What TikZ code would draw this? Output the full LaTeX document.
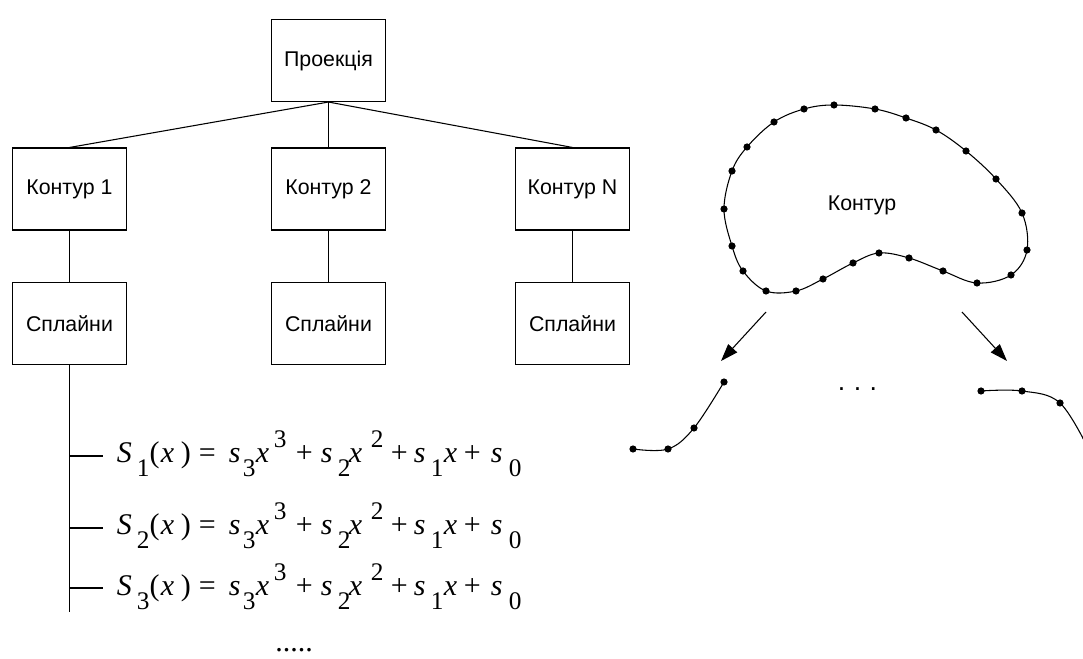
\documentclass[tikz,border=0pt]{standalone}
\usepackage{fontspec}
\setmainfont{Liberation Serif}
\setsansfont{Liberation Sans}
\usetikzlibrary{positioning, arrows.meta}

\newcommand{\piece}[2]{\rlap{\hspace{#1pt}#2}}
\newcommand{\lo}[1]{\raisebox{-10.5pt}{\fontsize{19}{19}\selectfont #1}}
\newcommand{\hi}[1]{\raisebox{11.25pt}{\fontsize{19}{19}\selectfont #1}}
\newcommand{\splinerow}[1]{%
    \piece{0}{\textit{S}}\piece{15}{\lo{#1}}\piece{24.5}{(}\piece{33}{\textit{x}}\piece{48}{)}%
    \piece{61.5}{=}\piece{84}{\textit{s}}\piece{94.5}{\lo{3}}\piece{104.25}{\textit{x}}\piece{117.75}{\hi{3}}%
    \piece{134.25}{+}\piece{153}{\textit{s}}\piece{165.75}{\lo{2}}\piece{174}{\textit{x}}\piece{190.5}{\hi{2}}%
    \piece{205.5}{+}\piece{222.75}{\textit{s}}\piece{235.5}{\lo{1}}\piece{245.25}{\textit{x}}%
    \piece{260.25}{+}\piece{280.5}{\textit{s}}\piece{294}{\lo{0}}\hspace{303pt}}

\tikzset{
    box/.style={draw, line width=0.8pt, minimum width=86pt, minimum height=61.5pt, inner sep=0pt, font=\sffamily\fontsize{16}{18}\selectfont},
    link/.style={line width=0.8pt},
    pointer/.style={line width=0.8pt, -{Triangle[length=13pt, width=9pt]}}
}

\begin{document}
\begin{tikzpicture}[x=0.75pt, y=-0.75pt]
        \useasboundingbox (0,0) rectangle (1083,659);

        \node[box] (proj) at (328.5,60.5) {Проекція};
        \node[box] (k1) at (69.5,189) {Контур 1};
        \node[box] (k2) at (328.5,189) {Контур 2};
        \node[box] (kn) at (572.5,189) {Контур N};
        \node[box] (s1) at (69.5,323.5) {Сплайни};
        \node[box] (s2) at (328.5,323.5) {Сплайни};
        \node[box] (sn) at (572.5,323.5) {Сплайни};

        \foreach \k in {1, 2, n} {
            \draw[link] (proj.south) -- (k\k.north);
            \draw[link] (k\k.south) -- (s\k.north);
        }

        \coordinate (stemend) at (69.5,612);
        \draw[link] (s1.south) -- (stemend);
        \foreach \i/\y in {1/456, 2/528, 3/588} {
            \coordinate (b\i) at (69.5,\y);
            \node[anchor=base west, inner sep=0pt, font=\fontsize{22.5}{26}\selectfont] (f\i) at (116,\y+7) {\splinerow{\i}};
            \draw[link] (b\i) -- ([xshift=-9.75pt]b\i -| f\i.west);
        }
        \node[anchor=base, inner sep=0pt, font=\fontsize{22.5}{26}\selectfont] (more) at (294,651) {.....};

        \draw[link] plot[smooth cycle, tension=0.6] coordinates {
            (804,109) (834,105) (875,109) (906,118) (936,130) (966,151)
            (996,179) (1022,213) (1027,250) (1011,275) (977,283) (943,271)
            (909,258) (879,253) (853,263) (823,279) (796,291) (766,291)
            (743,271) (732,246) (724,209) (732,171) (747,147) (774,122)};
        \foreach \x/\y in {804/109, 834/105, 875/109, 906/118, 936/130, 966/151,
            996/179, 1022/213, 1027/250, 1011/275, 977/283, 943/271,
            909/258, 879/253, 853/263, 823/279, 796/291, 766/291,
            743/271, 732/246, 724/209, 732/171, 747/147, 774/122} {
            \fill (\x,\y) circle (2.7pt);
        }
        \node[font=\sffamily\fontsize{16}{18}\selectfont] (contour) at (862,205) {Контур};

        \coordinate (a1s) at (766,312);
        \coordinate (a1e) at (721,361);
        \coordinate (a2s) at (962,312);
        \coordinate (a2e) at (1007,361);
        \draw[pointer] (a1s) -- (a1e);
        \draw[pointer] (a2s) -- (a2e);

        \draw[link] plot[smooth, tension=0.6] coordinates {(633,449) (668,449) (694,428) (724,382)};
        \foreach \x/\y in {633/449, 668/449, 694/428, 724/382} {
            \fill (\x,\y) circle (2.7pt);
        }

        \node[anchor=base, font=\sffamily\fontsize{20}{22}\selectfont] (gap) at (857.5,391) {.\hspace{6.4pt}.\hspace{6.4pt}.};

        \begin{scope}
            \clip (0,0) rectangle (1083,659);
            \draw[link] plot[smooth, tension=0.6] coordinates {(981,391) (1022,391) (1060,403) (1090,452)};
            \foreach \x/\y in {981/391, 1022/391, 1060/403, 1086/438} {
                \fill (\x,\y) circle (2.7pt);
            }
        \end{scope}
\end{tikzpicture}
\end{document}
